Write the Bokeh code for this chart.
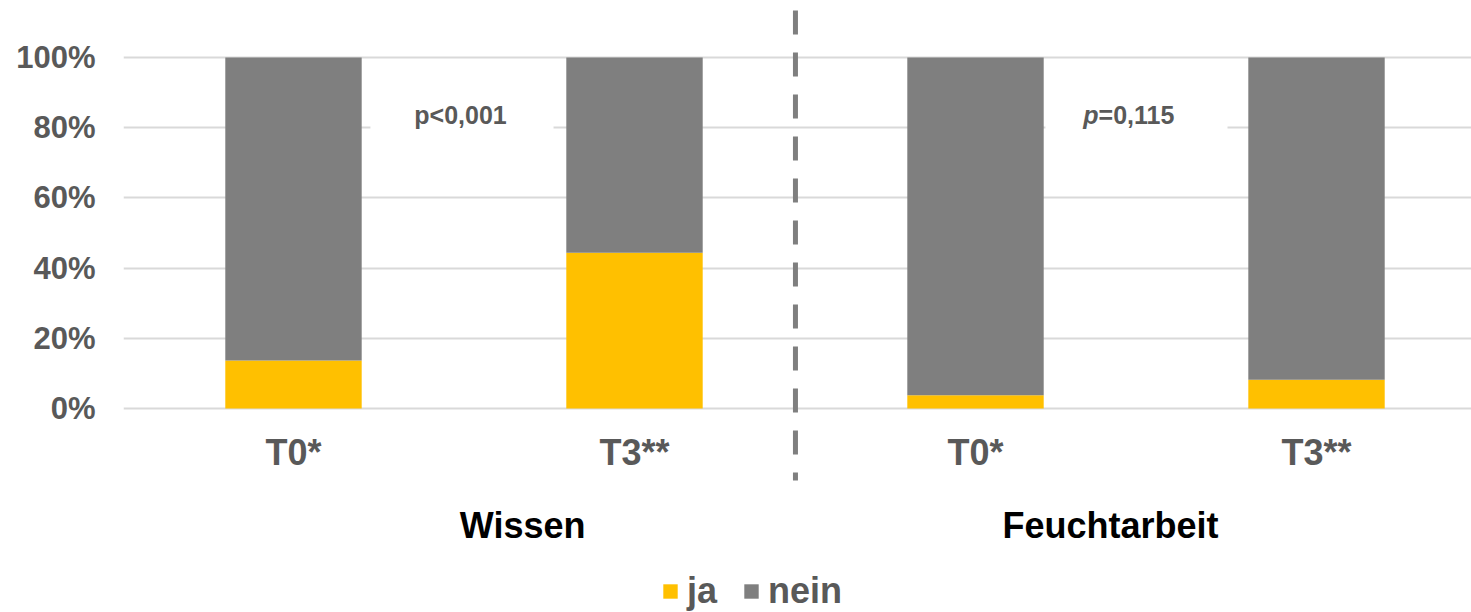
from bokeh.plotting import figure
from bokeh.models import (ColumnDataSource, Range1d, FixedTicker, NumeralTickFormatter,
                          Legend, LegendItem)
from bokeh.core.properties import value
from bokeh.embed import file_html
from bokeh.resources import INLINE

# ---------------- data ----------------
categories = ["T0*", "T3**", "T0*", "T3**"]
groups = ["Wissen", "Wissen", "Feuchtarbeit", "Feuchtarbeit"]
ja = [0.137, 0.444, 0.038, 0.082]
nein = [0.863, 0.556, 0.962, 0.918]
group_names = ["Wissen", "Feuchtarbeit"]
p_values = ["p<0,001", "=0,115"]
y_ticks = [0, 0.2, 0.4, 0.6, 0.8, 1.0]

# ---------------- styles ----------------
FONT = "Liberation Sans"
YELLOW = "#FFC000"
GREY = "#7F7F7F"
TXT = "#595959"
GRID = "#D9D9D9"

x = list(range(len(categories)))
src = ColumnDataSource(dict(x=x, ja=ja, nein=nein, cat=categories, grp=groups))

p = figure(width=1471, height=612, output_backend="svg", toolbar_location=None,
           x_range=Range1d(-0.4985, 3.4545), y_range=Range1d(-0.5812, 1.1624),
           min_border_left=123, min_border_right=0, min_border_top=0, min_border_bottom=0,
           x_axis_location=None)
p.outline_line_color = None
p.xgrid.grid_line_color = None
p.ygrid.ticker = FixedTicker(ticks=y_ticks)
p.ygrid.grid_line_color = GRID
p.ygrid.grid_line_width = 2

ax = p.yaxis[0]
ax.ticker = FixedTicker(ticks=y_ticks)
ax.formatter = NumeralTickFormatter(format="0%")
ax.axis_line_color = None
ax.major_tick_line_color = None
ax.minor_tick_line_color = None
ax.major_tick_out = 0
ax.major_tick_in = 0
ax.major_label_standoff = 28
ax.major_label_text_font = FONT
ax.major_label_text_font_style = "bold"
ax.major_label_text_font_size = "31px"
ax.major_label_text_color = TXT

renderers = p.vbar_stack(["ja", "nein"], x="x", width=0.4, color=[YELLOW, GREY],
                         line_color=None, source=src)

# category labels
p.text(x="x", y=-0.125, text="cat", source=src, text_align="center",
       text_baseline="middle", text_font=value(FONT), text_font_style="bold",
       text_font_size="36px", text_color=TXT)

# group labels
group_x = [0.672, 2.396]
p.text(x=group_x, y=[-0.333, -0.333], text=group_names, text_align="center",
       text_baseline="middle", text_font=value(FONT), text_font_style="bold",
       text_font_size="36px", text_color="black")

# divider
p.segment(x0=[1.472], y0=[1.134], x1=[1.472], y1=[-0.205], line_color=GREY,
          line_width=5, line_dash="24 18")

# p-value boxes and labels
p.rect(x=[0.4941, 2.472], y=[0.8276, 0.8276], width=[0.537, 0.534], height=[0.0997, 0.0997],
       fill_color="white", line_color=None)
p.text(x=[0.4897], y=[0.8376], text=[p_values[0]], text_align="center",
       text_baseline="middle", text_font=value(FONT), text_font_style="bold",
       text_font_size="25px", text_color=TXT)
p.text(x=[2.361], y=[0.8376], text=["p"], text_align="right",
       text_baseline="middle", text_font=value(FONT), text_font_style="bold italic",
       text_font_size="25px", text_color=TXT)
p.text(x=[2.361], y=[0.8376], text=[p_values[1]], text_align="left",
       text_baseline="middle", text_font=value(FONT), text_font_style="bold",
       text_font_size="25px", text_color=TXT)

legend = Legend(items=[LegendItem(label="ja", renderers=[renderers[0]]),
                       LegendItem(label="nein", renderers=[renderers[1]])],
                location=(538, 0), orientation="horizontal")
legend.padding = 0
legend.margin = 0
legend.spacing = 25
legend.glyph_width = 18
legend.glyph_height = 18
legend.label_standoff = 8
legend.label_text_font = FONT
legend.label_text_font_style = "bold"
legend.label_text_font_size = "36px"
legend.label_text_color = TXT
legend.border_line_color = None
legend.background_fill_alpha = 0
p.add_layout(legend)

open("out.html", "w").write(file_html(p, INLINE))
